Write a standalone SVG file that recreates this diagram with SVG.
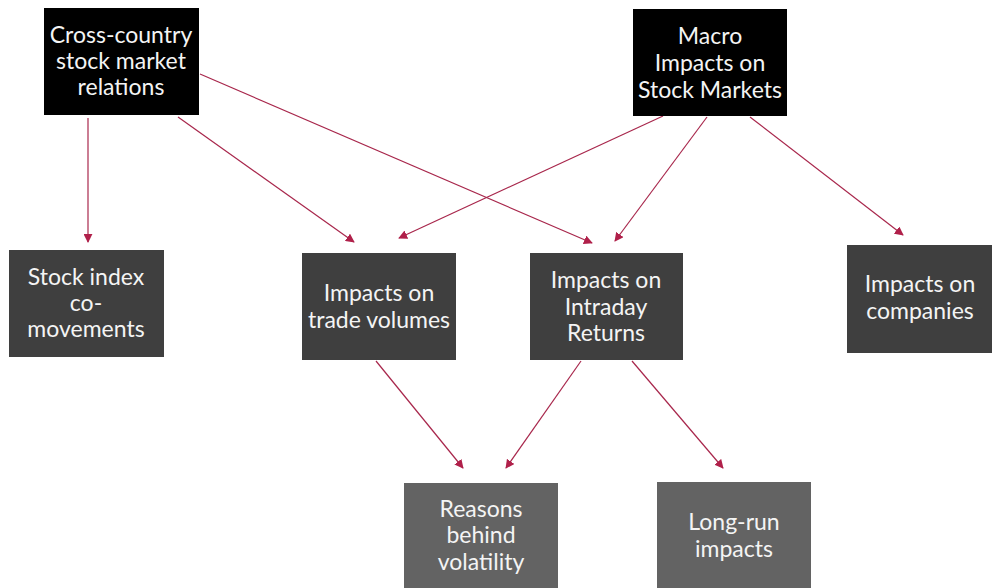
<svg xmlns="http://www.w3.org/2000/svg" width="992" height="588" viewBox="0 0 992 588">
<defs>
<style>
.lbl{font-family:"Lato","Open Sans","Liberation Sans",sans-serif;font-size:23px;fill:#f4f4f4;text-anchor:middle}
.top{fill:#000}
.mid{fill:#3f3f3f}
.bot{fill:#636363}
.edge{stroke:#a8274c;stroke-width:1.2;fill:none;marker-end:url(#ah)}
</style>
<marker id="ah" viewBox="0 0 10 10" refX="9" refY="5" markerWidth="9" markerHeight="9" markerUnits="userSpaceOnUse" orient="auto">
<path d="M0,0 L10,5 L0,10 z" fill="#b0204a"/>
</marker>
</defs>
<rect width="992" height="588" fill="#fff"/>
<g id="connectors">
<line class="edge" x1="88" y1="118" x2="88" y2="242"/>
<line class="edge" x1="178" y1="117" x2="354" y2="242"/>
<line class="edge" x1="200" y1="74" x2="592" y2="243"/>
<line class="edge" x1="663" y1="116" x2="399" y2="238"/>
<line class="edge" x1="707" y1="117" x2="615" y2="241"/>
<line class="edge" x1="750" y1="117" x2="903" y2="235"/>
<line class="edge" x1="376" y1="361" x2="463" y2="468"/>
<line class="edge" x1="581" y1="361" x2="506" y2="468"/>
<line class="edge" x1="632" y1="361" x2="723" y2="468"/>
</g>
<g id="cross-country">
<rect class="top" x="44" y="8" width="155" height="107"/>
<text class="lbl" x="121" y="43">Cross-country</text>
<text class="lbl" x="121" y="69">stock market</text>
<text class="lbl" x="121" y="95">relations</text>
</g>
<g id="macro">
<rect class="top" x="633" y="9" width="154" height="107"/>
<text class="lbl" x="710" y="44">Macro</text>
<text class="lbl" x="710" y="71">Impacts on</text>
<text class="lbl" x="710" y="98">Stock Markets</text>
</g>
<g id="stock-index">
<rect class="mid" x="9" y="250" width="155" height="107"/>
<text class="lbl" x="86" y="285">Stock index</text>
<text class="lbl" x="86" y="311">co-</text>
<text class="lbl" x="86" y="337">movements</text>
</g>
<g id="trade-volumes">
<rect class="mid" x="302" y="253" width="154" height="107"/>
<text class="lbl" x="379" y="301">Impacts on</text>
<text class="lbl" x="379" y="328">trade volumes</text>
</g>
<g id="intraday">
<rect class="mid" x="530" y="253" width="153" height="107"/>
<text class="lbl" x="606" y="288">Impacts on</text>
<text class="lbl" x="606" y="315">Intraday</text>
<text class="lbl" x="606" y="341">Returns</text>
</g>
<g id="companies">
<rect class="mid" x="847" y="245" width="145" height="108"/>
<text class="lbl" x="920" y="292">Impacts on</text>
<text class="lbl" x="920" y="319">companies</text>
</g>
<g id="reasons">
<rect class="bot" x="404" y="483" width="154" height="105"/>
<text class="lbl" x="481" y="517">Reasons</text>
<text class="lbl" x="481" y="543">behind</text>
<text class="lbl" x="481" y="570">volatility</text>
</g>
<g id="long-run">
<rect class="bot" x="657" y="482" width="154" height="106"/>
<text class="lbl" x="734" y="530">Long-run</text>
<text class="lbl" x="734" y="557">impacts</text>
</g>
</svg>
